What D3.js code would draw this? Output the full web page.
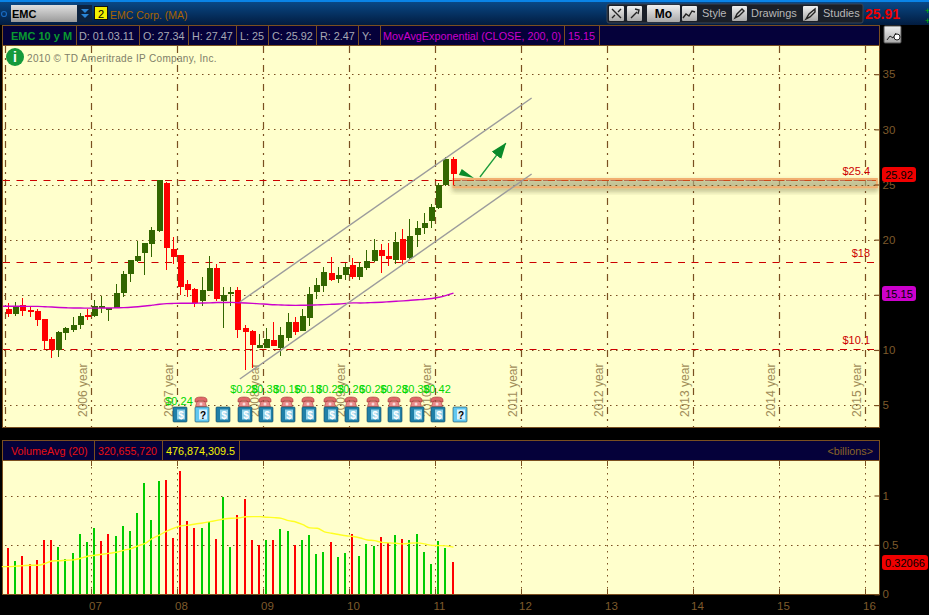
<!DOCTYPE html>
<html><head><meta charset="utf-8">
<style>
html,body{margin:0;padding:0;background:#000;overflow:hidden}
svg{display:block;font-family:"Liberation Sans",Arial,sans-serif}
</style>
<script src="https://cdn.jsdelivr.net/npm/d3@7"></script></head><body>
<svg id="c" width="929" height="615"></svg>
<script>
const opens=[13.71,13.29,14.08,13.62,13.53,12.81,10.99,9.97,11.57,11.81,
12.26,13.17,13.08,13.80,13.65,13.77,15.16,16.89,18.07,18.79,
19.61,20.79,25.14,19.15,18.61,15.98,15.53,14.44,15.35,17.43,
14.44,15.07,15.44,11.99,11.72,10.17,10.17,10.90,10.17,11.08,
12.53,11.72,12.90,15.25,15.80,16.98,16.43,16.79,17.70,16.61,
17.43,18.06,19.06,18.52,18.15,20.06,18.33,20.42,21.05,21.69,
22.87,24.95,27.34];
const highs=[14.23,14.35,14.71,13.92,13.68,12.81,11.14,11.72,12.05,12.99,
13.35,13.68,14.53,14.89,13.80,15.98,17.13,18.15,19.88,19.70,
21.15,25.45,25.23,20.24,18.61,16.34,15.62,16.61,18.52,17.79,
15.71,15.71,15.71,12.26,11.81,11.44,11.99,12.53,12.08,13.35,
12.99,13.71,15.71,16.52,17.52,18.43,17.52,17.88,18.33,17.97,
19.06,20.06,19.60,19.69,20.69,20.96,21.87,21.69,22.42,23.23,
25.14,27.49,27.47];
const lows=[13.02,13.11,13.11,13.02,12.20,9.98,9.30,9.39,10.90,11.66,
11.93,12.75,12.99,13.35,12.63,13.77,14.80,16.16,17.97,16.80,
18.43,20.66,17.25,17.79,14.98,14.80,13.90,13.98,15.35,14.44,
11.99,13.98,11.08,8.18,8.33,10.15,10.17,10.36,9.45,10.81,
11.35,11.72,12.17,14.62,15.25,16.25,16.07,16.34,16.43,16.34,
17.25,17.97,16.98,17.61,17.79,17.79,18.25,19.33,20.51,21.06,
22.78,24.90,25];
const closes=[13.29,13.92,13.56,13.47,12.75,10.81,9.98,11.63,11.99,12.26,
13.08,12.99,13.98,13.98,13.80,15.16,16.89,18.15,18.52,19.70,
20.88,25.40,19.24,18.43,15.71,15.44,14.23,15.44,17.43,14.62,
14.98,15.25,11.81,11.63,10.45,10.45,10.99,10.36,11.35,12.53,
11.63,13.08,15.07,15.89,17.07,16.34,16.79,17.52,16.61,17.52,
18.06,19.06,18.52,18.24,19.79,18.15,20.33,21.05,21.51,22.96,
24.95,27.31,25.92];
// EMA 200, first value is one month before the first candle
const movAvg=[13.96,13.96,13.96,13.96,13.95,13.95,13.92,13.89,13.85,13.82,
13.80,13.80,13.79,13.79,13.80,13.80,13.82,13.84,13.87,13.92,
13.98,14.06,14.14,14.20,14.22,14.23,14.23,14.24,14.25,14.27,
14.30,14.30,14.31,14.28,14.25,14.22,14.18,14.14,14.10,14.08,
14.05,14.04,14.05,14.06,14.09,14.11,14.14,14.17,14.22,14.27,
14.26,14.28,14.30,14.33,14.37,14.41,14.45,14.50,14.55,14.60,
14.67,14.78,14.95,15.15];
const volumes=[.469,.337,.388,.307,.348,.550,.550,.479,.358,.418,
.611,.530,.671,.540,.611,.590,.692,.641,.823,1.127,
.752,1.147,1.157,.570,1.248,.742,.671,.671,.732,.560,
.985,.479,.803,.965,.550,.499,.550,.550,.661,.641,
.499,.550,.601,.408,.428,.530,.378,.418,.611,.388,
.509,.489,.580,.520,.601,.560,.550,.611,.428,.307,
.540,.469,.327];
const volumeDirs=["d","u","d","d","d","d","d","u","u","u",
"u","u","u","d","d","u","u","u","u","u",
"u","u","d","d","d","d","d","u","u","d",
"u","u","d","d","d","d","u","d","u","u",
"d","u","u","u","u","d","u","u","d","u",
"u","u","d","d","u","d","u","u","u","u",
"u","u","d"];
const volumeAvg=[.280,.280,.285,.290,.294,.294,.310,.337,.340,.345,
.348,.365,.385,.395,.405,.415,.425,.445,.462,.490,
.516,.565,.600,.640,.670,.692,.700,.712,.722,.735,
.748,.762,.770,.772,.785,.786,.786,.780,.776,.769,
.745,.732,.705,.672,.668,.632,.618,.605,.592,.585,
.570,.550,.543,.525,.520,.516,.510,.518,.520,.510,
.495,.493,.490,.477];
const priceTicks=[5,10,15,20,25,30,35];
const volumeTicks=[0,0.5,1];
const yearGrid=[12,24,36,48,60,72,84,96,108,120];
const yearLabels=["2006 year","2007 year","2008 year","2009 year","2010 year","2011 year","2012 year","2013 year","2014 year","2015 year"];
const xLabels=["07","08","09","10","11","12","13","14","15","16"];
const levels=[25.4,18,10.1];
const levelLabels=["$25.4","$18","$10.1"];
const channelUpper=[[32.2,14.35],[72.9,32.84]];
const channelLower=[[32.2,7.37],[72.9,25.95]];
const arrowShaft=[[65.69,25.68],[69.3,28.76]];
const arrowBack=[[62.75,25.87],[63.15,26.41],[64.85,25.59]];
const band=[[62,25.5],[121.05,24.75]];
const earnMonths=[24,33,36,39,42,45,48,51,54,57,60];
const earnLabels=["$0.24","$0.28","$0.38","$0.16","$0.18","$0.23","$0.26","$0.26","$0.28","$0.38","$0.42"];
const phoneMonths=[27,33,36,39,42,45,48,51,54,57,60];
const bookMonths=[24,27,30,33,36,39,42,45,48,51,54,57,60,63];
const bookKinds=["$","?","$","$","$","$","$","$","$","$","$","$","$","?"];
const headerCells=[["D: 01.03.11",79],["O: 27.34",143],["H: 27.47",192],["L: 25",240],["C: 25.92",272],["R: 2.47",320],["Y:",362]];
const headerSeps=[76,139,188,236,268,316,358,380,564,599];
const volSeps=[94,162,239];

const BROWN="#7a4f20",TICK="#7d5a2c",PLOT="#ffffcc",NAVY="#05013a";
const svg=d3.select("#c");
const defs=svg.append("defs");
const tg=defs.append("linearGradient").attr("id","tb").attr("x1",0).attr("x2",0).attr("y1",0).attr("y2",1);
tg.append("stop").attr("offset",0).attr("stop-color","#0a4c8c");
tg.append("stop").attr("offset",1).attr("stop-color","#021c40");
const bg=defs.append("linearGradient").attr("id","btn").attr("x1",0).attr("x2",0).attr("y1",0).attr("y2",1);
bg.append("stop").attr("offset",0).attr("stop-color","#f0f0f0");
bg.append("stop").attr("offset",1).attr("stop-color","#a8a8a8");
const ig=defs.append("linearGradient").attr("id","inp").attr("x1",0).attr("x2",0).attr("y1",0).attr("y2",1);
ig.append("stop").attr("offset",0).attr("stop-color","#e0e0e0");
ig.append("stop").attr("offset",1).attr("stop-color","#9a9a9a");
const sh=defs.append("filter").attr("id","sh").attr("x","-5%").attr("y","-60%").attr("width","110%").attr("height","250%");
sh.append("feDropShadow").attr("dx",0).attr("dy",3).attr("stdDeviation",2.5).attr("flood-color","#5a5a30").attr("flood-opacity",.55);
defs.append("clipPath").attr("id","pc").append("rect").attr("x",3).attr("y",46).attr("width",876).attr("height",381);

const x=d3.scaleLinear().domain([0,62]).range([9,453.5]);
const gx=i=>Math.round(x(i)-4.5)+.5;
const y=d3.scaleLinear().domain([5,35]).range([405.1,74.2]);
const yv=d3.scaleLinear().domain([0,1]).range([594.3,495.5]);

// window chrome
svg.append("rect").attr("width",929).attr("height",615).attr("fill","#000");
svg.append("rect").attr("width",929).attr("height",25).attr("fill","url(#tb)");
svg.append("rect").attr("width",929).attr("height",2).attr("fill","#0a84e8");
svg.append("circle").attr("cx",4).attr("cy",14).attr("r",2.5).attr("fill","none").attr("stroke","#1a6ac0").attr("stroke-width",1.2);
svg.append("rect").attr("x",11).attr("y",5).attr("width",66).attr("height",17).attr("fill","url(#inp)");
svg.append("text").attr("x",12).attr("y",18).attr("font-size",11).attr("font-weight","bold").attr("fill","#000").text("EMC");
svg.append("rect").attr("x",77).attr("y",5).attr("width",15).attr("height",17).attr("fill","#0c2340");
svg.append("path").attr("d","M81 9h8l-4 4zM81 14h8l-4 4z").attr("fill","#2a86d8");
svg.append("rect").attr("x",94.5).attr("y",6.5).attr("width",13).attr("height",13).attr("fill","#f2f000").attr("stroke","#111");
svg.append("text").attr("x",101).attr("y",17.5).attr("text-anchor","middle").attr("font-size",11).attr("fill","#000").text("2");
svg.append("text").attr("x",110).attr("y",19).attr("font-size",10.5).attr("fill","#a86400").text("EMC Corp. (MA)");

// right toolbar
const tb=svg.append("g");
tb.append("rect").attr("x",607).attr("y",4).attr("width",256).attr("height",19).attr("rx",2).attr("fill","#1a1f28").attr("stroke","#3a4656");
[[609,"M3 3l9 9M3 12l3-3M12 3l-3 3"],[627,"M4 12l6-6M8 3l4 1-1 4"],[682,"M1 12l3-4 3 2 3-5 3 1"],[732,"M3 12l2-4 5-5 2 2-5 5z"],[803,"M3 13l3-5 6-5v3l-5 5z"]].forEach(d=>{
  tb.append("rect").attr("x",d[0]).attr("y",6).attr("width",15).attr("height",15).attr("rx",1).attr("fill","url(#btn)");
  tb.append("path").attr("transform",`translate(${d[0]},6)`).attr("d",d[1]).attr("fill","none").attr("stroke","#222").attr("stroke-width",1.4);
});
tb.append("rect").attr("x",647).attr("y",5).attr("width",33).attr("height",17).attr("rx",1).attr("fill","url(#btn)");
tb.append("text").attr("x",663.5).attr("y",18).attr("text-anchor","middle").attr("font-size",12).attr("font-weight","bold").attr("fill","#000").text("Mo");
[["Style",702],["Drawings",751],["Studies",823]].forEach(d=>tb.append("text").attr("x",d[1]).attr("y",17).attr("font-size",11).attr("fill","#b8b8b8").text(d[0]));
svg.append("text").attr("x",865).attr("y",19).attr("font-size",14).attr("font-weight","bold").attr("fill","#f00000").text("25.91");
svg.append("text").attr("x",925).attr("y",14).attr("font-size",9).attr("fill","#00c000").text("+");
svg.append("text").attr("x",925).attr("y",24).attr("font-size",9).attr("fill","#00c000").text("+");

// price panel
svg.append("rect").attr("x",2.5).attr("y",25.5).attr("width",877).attr("height",20).attr("fill",NAVY).attr("stroke",BROWN);
headerSeps.forEach(s=>svg.append("line").attr("x1",s+.5).attr("x2",s+.5).attr("y1",25).attr("y2",45).attr("stroke",BROWN));
svg.append("text").attr("x",11).attr("y",39.5).attr("font-size",11).attr("font-weight","bold").attr("fill","#0a9a30").text("EMC 10 y M");
headerCells.forEach(d=>svg.append("text").attr("x",d[1]).attr("y",39.5).attr("font-size",10.8).attr("fill","#a8a8b4").text(d[0]));
svg.append("text").attr("x",383).attr("y",39.5).attr("font-size",10.8).attr("fill","#cc00cc").text("MovAvgExponential (CLOSE, 200, 0)");
svg.append("text").attr("x",568).attr("y",39.5).attr("font-size",10.8).attr("fill","#cc00cc").text("15.15");

svg.append("rect").attr("x",2.5).attr("y",45.5).attr("width",877).attr("height",382).attr("fill",PLOT).attr("stroke",BROWN);
const pp=svg.append("g").attr("clip-path","url(#pc)");

pp.selectAll(".hg").data(priceTicks).join("line").attr("x1",4).attr("x2",876)
  .attr("y1",d=>Math.round(y(d))+.5).attr("y2",d=>Math.round(y(d))+.5)
  .attr("stroke",BROWN).attr("stroke-width",1).attr("stroke-dasharray","1.5 4.5");
pp.selectAll(".vg").data([0].concat(yearGrid)).join("line")
  .attr("x1",gx).attr("x2",gx).attr("y1",46).attr("y2",427)
  .attr("stroke",BROWN).attr("stroke-width",1.2).attr("stroke-dasharray","7 5 2 5");
// year captions
pp.selectAll(".yl").data(yearGrid).join("text")
  .attr("transform",(d)=>`translate(${gx(d)-4.5},417) rotate(-90)`)
  .attr("font-size",12).attr("fill","#a08c58").text((d,i)=>yearLabels[i]);
// levels
pp.selectAll(".lv").data(levels).join("line").attr("x1",3).attr("x2",876)
  .attr("y1",d=>Math.round(y(d))+.5).attr("y2",d=>Math.round(y(d))+.5)
  .attr("stroke","#cc0000").attr("stroke-width",1.2).attr("stroke-dasharray","7 6.5");
svg.selectAll(".ll").data(levels).join("text").attr("x",870).attr("y",d=>y(d)-5)
  .attr("text-anchor","end").attr("font-size",11).attr("fill","#cc0000").text((d,i)=>levelLabels[i]);
// band
pp.append("rect").attr("x",x(band[0][0])).attr("y",y(band[0][1])).attr("width",x(band[1][0])-x(band[0][0]))
  .attr("height",y(band[1][1])-y(band[0][1])).attr("fill","#b8b88c").attr("fill-opacity",.55)
  .attr("stroke","#f2b070").attr("stroke-width",2).attr("filter","url(#sh)");
pp.selectAll(".lv2").data([levels[0]]).join("line").attr("x1",x(band[0][0])).attr("x2",876)
  .attr("y1",d=>Math.round(y(d))+.5).attr("y2",d=>Math.round(y(d))+.5)
  .attr("stroke","#cc4a1a").attr("stroke-width",1.2).attr("stroke-dasharray","7 6.5");
pp.selectAll(".hg2").data([25]).join("line").attr("x1",x(band[0][0])).attr("x2",876)
  .attr("y1",d=>Math.round(y(d))+.5).attr("y2",d=>Math.round(y(d))+.5)
  .attr("stroke",BROWN).attr("stroke-dasharray","1.5 4.5");

// candles
const idx=d3.range(opens.length);
const col=i=>closes[i]<opens[i]?"#ff0000":"#336600";
const cg=pp.append("g").attr("shape-rendering","crispEdges");
cg.selectAll(".w").data(idx).join("rect").attr("x",i=>Math.round(x(i))-1).attr("width",1.2)
  .attr("y",i=>y(highs[i])).attr("height",i=>y(lows[i])-y(highs[i])).attr("fill",col);
cg.selectAll(".b").data(idx).join("rect").attr("x",i=>Math.round(x(i))-3.5).attr("width",6)
  .attr("y",i=>y(Math.max(opens[i],closes[i]))).attr("height",i=>Math.max(1.5,Math.abs(y(opens[i])-y(closes[i])))).attr("fill",col);
// moving average
const maLine=d3.line().x((d,i)=>x(i-1)).y(d=>y(d)).curve(d3.curveMonotoneX);
pp.append("path").attr("d",maLine(movAvg)).attr("fill","none").attr("stroke","#cc00cc").attr("stroke-width",1.4);
// channel
const pl=d3.line().x(d=>x(d[0])).y(d=>y(d[1]));
[channelUpper,channelLower].forEach(c=>pp.append("path").attr("d",pl(c)).attr("fill","none").attr("stroke","#9c9c9c").attr("stroke-width",1.4));
// arrows
const ah=defs.append("marker").attr("id","ah").attr("markerUnits","userSpaceOnUse").attr("viewBox","0 0 16 12").attr("refX",15.5).attr("refY",6)
  .attr("markerWidth",16).attr("markerHeight",12).attr("orient","auto");
ah.append("path").attr("d","M0 0L16 6L0 12Z").attr("fill","#0a8a2a");
pp.append("path").attr("d",pl(arrowShaft)).attr("fill","none").attr("stroke","#1a9a3a").attr("stroke-width",1.3).attr("marker-end","url(#ah)");
pp.append("path").attr("d",pl(arrowBack)+"Z").attr("fill","#0a8a2a");

// earnings + icons
const fx=i=>Math.round(x(i));
pp.selectAll(".el").data(earnMonths).join("text").attr("x",i=>fx(i)-2).attr("y",(i,k)=>k===0?405:393)
  .attr("text-anchor","middle").attr("font-size",11).attr("fill","#00d800").text((d,k)=>earnLabels[k]);
const phones=pp.selectAll(".ph").data(phoneMonths).join("g").attr("transform",i=>`translate(${fx(i)-2},402)`);
phones.append("path").attr("d","M-6 -2Q-6 -5 0 -5Q6 -5 6 -2L6 0L3 0L3 -1.5L-3 -1.5L-3 0L-6 0Z").attr("fill","#e06868").attr("stroke","#a03838").attr("stroke-width",.6);
phones.append("path").attr("d","M-4 -.5H4L5.5 4.5H-5.5Z").attr("fill","#ea8a8a").attr("stroke","#a03838").attr("stroke-width",.6);
phones.append("circle").attr("cy",2).attr("r",1.5).attr("fill","#f8d8d8");
const books=pp.selectAll(".bk").data(bookMonths).join("g").attr("transform",i=>`translate(${fx(i)-1},414.5)`);
books.append("rect").attr("x",-7).attr("y",-7.5).attr("width",14).attr("height",15).attr("rx",1)
  .attr("fill",(d,k)=>bookKinds[k]==="?"?"#62c8f0":"#2080a8").attr("stroke","#104860").attr("stroke-width",.6);
books.append("rect").attr("x",-3).attr("y",-5).attr("width",8).attr("height",10).attr("fill",(d,k)=>bookKinds[k]==="?"?"#d8f2ff":"#90d0e8");
books.append("text").attr("y",4).attr("x",1).attr("text-anchor","middle").attr("font-size",10).attr("font-weight","bold")
  .attr("fill",(d,k)=>bookKinds[k]==="?"?"#000":"#fff").text((d,k)=>bookKinds[k]);

// info
svg.append("circle").attr("cx",15).attr("cy",57).attr("r",9).attr("fill","#159a3c");
svg.append("text").attr("x",15).attr("y",62).attr("text-anchor","middle").attr("font-size",14).attr("font-weight","bold").attr("fill","#fff").text("i");
svg.append("text").attr("x",27).attr("y",62).attr("font-size",10).attr("letter-spacing",.32).attr("fill","#808068").text("2010 © TD Ameritrade IP Company, Inc.");

// hand button
svg.append("rect").attr("x",884).attr("y",26).attr("width",17).attr("height",17).attr("rx",1).attr("fill","url(#btn)").attr("stroke","#555");
svg.append("path").attr("d","M887 40l3-4 3 2 3-5").attr("fill","none").attr("stroke","#222");
svg.append("circle").attr("cx",897).attr("cy",37).attr("r",3).attr("fill","#fff").attr("stroke","#222");

// price axis
const pa=svg.append("g").attr("transform","translate(879.5,0)")
  .call(d3.axisRight(y).tickValues(priceTicks).tickSize(-5).tickPadding(3));
pa.select(".domain").remove();
pa.selectAll("line").attr("stroke",BROWN).attr("stroke-width",1.2);
pa.selectAll("text").attr("fill",TICK).attr("font-size",11.5).attr("font-family","Liberation Sans");

const badge=(x0,y0,w,h,fill,t)=>{svg.append("rect").attr("x",x0).attr("y",y0).attr("width",w).attr("height",h).attr("rx",3).attr("fill",fill);
 svg.append("text").attr("x",x0+w/2).attr("y",y0+h/2+4).attr("text-anchor","middle").attr("font-size",11).attr("fill","#000").text(t);};
badge(882,167,34,15,"#f00000","25.92");
badge(882,286,34,15,"#cc00cc","15.15");
badge(882,555,46,15,"#f00000","0.32066");

// volume panel
svg.append("rect").attr("x",2.5).attr("y",440.5).attr("width",877).attr("height",20).attr("fill",NAVY).attr("stroke",BROWN);
volSeps.forEach(s=>svg.append("line").attr("x1",s+.5).attr("x2",s+.5).attr("y1",440).attr("y2",460).attr("stroke",BROWN));
svg.append("text").attr("x",11).attr("y",454.5).attr("font-size",10.8).attr("fill","#e81010").text("VolumeAvg (20)");
svg.append("text").attr("x",98).attr("y",454.5).attr("font-size",10.6).attr("fill","#e81010").text("320,655,720");
svg.append("text").attr("x",166).attr("y",454.5).attr("font-size",10.8).attr("fill","#f4f000").text("476,874,309.5");
svg.append("text").attr("x",873).attr("y",454.5).attr("text-anchor","end").attr("font-size",10.8).attr("fill","#8a6428").text("<billions>");

svg.append("rect").attr("x",2.5).attr("y",460.5).attr("width",877).attr("height",134).attr("fill",PLOT).attr("stroke",BROWN);
const vp=svg.append("g");
vp.selectAll(".h").data(volumeTicks.slice(1)).join("line").attr("x1",5).attr("x2",875)
  .attr("y1",d=>Math.round(yv(d))+.5).attr("y2",d=>Math.round(yv(d))+.5).attr("stroke",BROWN).attr("stroke-dasharray","1.5 4.5");
vp.selectAll(".v").data(yearGrid).join("line").attr("x1",gx).attr("x2",gx).attr("y1",461).attr("y2",594)
  .attr("stroke",BROWN).attr("stroke-dasharray","1.5 4.5");
vp.selectAll(".vt").data(yearGrid).join("path").attr("d",d=>`M${gx(d)} 461v5M${gx(d)} 589v5`).attr("stroke",BROWN);
vp.selectAll(".vb").data(idx).join("rect").attr("shape-rendering","crispEdges")
  .attr("x",i=>Math.round(x(i))-2).attr("width",2)
  .attr("y",i=>yv(volumes[i])).attr("height",i=>yv(0)-yv(volumes[i]))
  .attr("fill",i=>volumeDirs[i]==="d"?"#ff0000":"#00cc00");
const vl=d3.line().x((d,i)=>x(i-1)).y(d=>yv(d)).curve(d3.curveMonotoneX);
vp.append("path").attr("d",vl(volumeAvg)).attr("fill","none").attr("stroke","#ffff22").attr("stroke-width",1.4);
const va=svg.append("g").attr("transform","translate(879.5,0)")
  .call(d3.axisRight(yv).tickValues(volumeTicks).tickFormat(d3.format("~g")).tickSize(-5).tickPadding(3));
va.select(".domain").remove();
va.selectAll("line").attr("stroke",BROWN).attr("stroke-width",1.2);
va.selectAll("text").attr("fill",TICK).attr("font-size",11.5).attr("font-family","Liberation Sans");
svg.selectAll(".xl").data(yearGrid).join("text").attr("x",d=>gx(d)+4).attr("y",610)
  .attr("text-anchor","middle").attr("font-size",11.5).attr("fill",TICK).text((d,i)=>xLabels[i]);
</script></body></html>
